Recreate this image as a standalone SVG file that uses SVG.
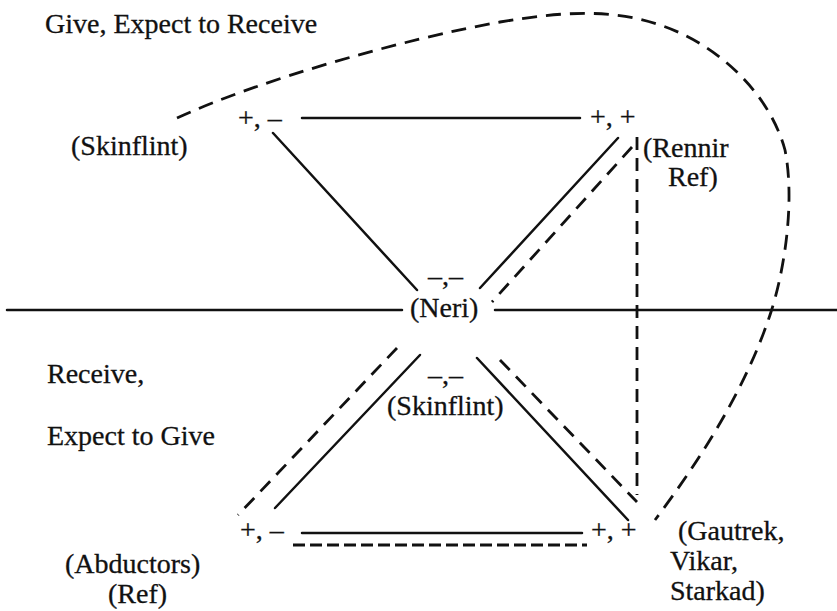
<svg xmlns="http://www.w3.org/2000/svg" width="837" height="611" viewBox="0 0 837 611">
<style>
text{font-family:'Liberation Serif','Times New Roman','DejaVu Serif',serif;font-size:28px;fill:#111;stroke:#111;stroke-width:0.3}
.s{stroke:#111;stroke-width:2.5;fill:none;stroke-linecap:round}
.d{stroke:#111;stroke-width:2.8;fill:none;stroke-dasharray:14 9}
.dv{stroke:#111;stroke-width:2.8;fill:none;stroke-dasharray:13 8}
</style>
<rect width="837" height="611" fill="#fff"/>
<g id="labels" font-family="Liberation Serif, serif">
<text x="45" y="33">Give, Expect to Receive</text>
<text x="47" y="383">Receive,</text>
<text x="47" y="445">Expect to Give</text>
</g>
<g id="connectors">
<line class="s" x1="7" y1="310" x2="402" y2="310"/>
<line class="s" x1="495" y1="310" x2="837" y2="310"/>
<line class="s" x1="302" y1="118" x2="580" y2="118"/>
<line class="s" x1="273" y1="133" x2="417" y2="290"/>
<line class="s" x1="618" y1="138" x2="480" y2="288"/>
<line class="d" x1="632" y1="147" x2="492" y2="302"/>
<line class="dv" x1="637" y1="137" x2="637" y2="495"/>
<line class="d" x1="397" y1="348" x2="238" y2="515"/>
<line class="s" x1="420" y1="355" x2="275" y2="508"/>
<line class="s" x1="477" y1="358" x2="628" y2="520"/>
<line class="d" x1="500" y1="360" x2="637" y2="502"/>
<line class="s" x1="302" y1="533" x2="582" y2="533"/>
<line class="d" x1="293" y1="545" x2="587" y2="545" style="stroke-dasharray:12 5"/>
<path class="d" style="stroke-dasharray:15 9" d="M177,118 C260,80 400,40 500,22 C560,12 610,8 660,25 C720,45 770,95 785,150 C795,200 785,270 770,315 C745,390 700,460 655,520"/>
</g>
<g id="node-skinflint-top">
<text x="238" y="127">+, –</text>
<text x="71" y="155">(Skinflint)</text>
</g>
<g id="node-rennir">
<text x="590" y="126">+, +</text>
<text x="643" y="157">(Rennir</text>
<text x="668" y="186">Ref)</text>
</g>
<g id="node-neri">
<text x="428" y="285">–,–</text>
<text x="410" y="317">(Neri)</text>
</g>
<g id="node-skinflint-bottom">
<text x="428" y="384">–,–</text>
<text x="387" y="415">(Skinflint)</text>
</g>
<g id="node-abductors">
<text x="240" y="539">+, –</text>
<text x="65" y="573">(Abductors)</text>
<text x="108" y="603">(Ref)</text>
</g>
<g id="node-gautrek">
<text x="591" y="539">+, +</text>
<text x="678" y="540">(Gautrek,</text>
<text x="670" y="570">Vikar,</text>
<text x="670" y="600">Starkad)</text>
</g>
</svg>
